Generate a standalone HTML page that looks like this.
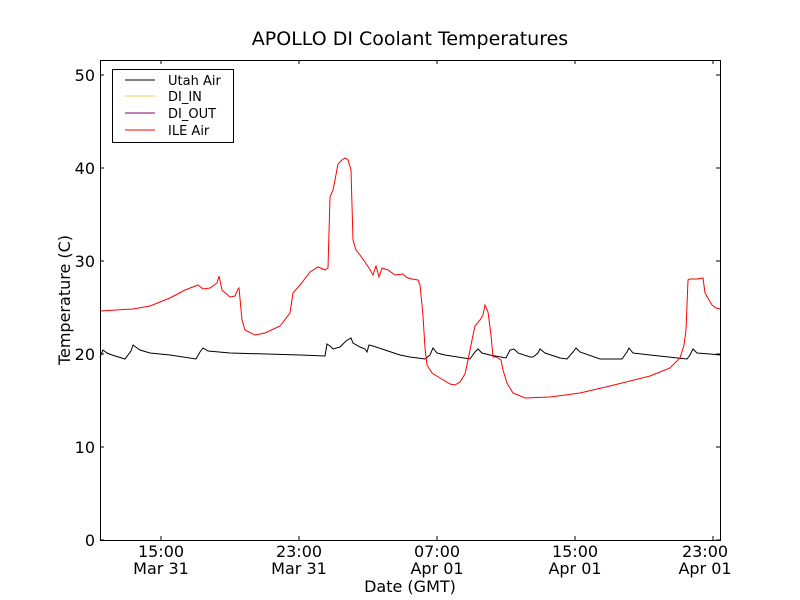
<!DOCTYPE html>
<html><head><meta charset="utf-8"><style>body{margin:0;background:#fff}svg{display:block}text{font-family:"DejaVu Sans","Liberation Sans",sans-serif}</style></head><body>
<svg width="800" height="600" viewBox="0 0 800 600" xmlns="http://www.w3.org/2000/svg">
<rect width="800" height="600" fill="#fff"/>
<text x="410" y="45" font-size="19" text-anchor="middle">APOLLO DI Coolant Temperatures</text>
<g fill="none" stroke-width="1">
<polyline stroke="#000" points="100,357 103,350 107,353 112,355 125,359 131,351 133,345 140,350 150,353 170,355 196,359 200,352 203,348 208,351 230,353 300,355 325,356 327,344 330,346 333,349 340,347 346,341 351,338 353,343 360,347 365,349 367,352 369,345 373,346 385,350 400,355 410,357 425,359 430,355 433,348 437,353 445,355 470,359 475,352 478,349 482,353 490,355 506,358 510,350 514,349 518,353 530,357 533,357 538,353 540,349 545,353 560,358 567,359 573,352 576,348 580,352 600,359 622,359 627,352 629,348 633,353 650,355 687,359 690,355 693,349 697,353 710,354 720,355"/>
<polyline stroke="#f00" points="100,311 133,309 150,306 170,298 185,290 198,285 203,289 210,288 217,283 219,276 222,290 230,297 235,296 238,289 239,288 242,320 245,330 255,335 265,333 280,326 290,313 293,293 300,285 310,272 318,267 325,270 328,268 330,197 333,190 335,180 338,164 342,160 345,158 348,160 351,170 353,240 356,250 360,255 365,262 369,268 373,275 376,266 379,277 382,268 388,270 395,275 403,274 405,276 408,278 412,279 418,280 420,285 422,305 423,316 425,348 427,365 432,373 440,378 450,384 455,385 460,382 465,374 468,360 472,340 475,326 480,320 483,315 485,305 488,312 491,335 493,357 496,357 501,360 503,370 507,383 513,393 525,398 550,397 580,393 610,386 650,376 670,368 680,358 684,345 686,330 688,280 690,279 697,279 703,278 705,293 709,300 712,305 716,308 720,309"/>
</g>
<rect x="100.5" y="60.5" width="620" height="480" fill="none" stroke="#000"/>
<g stroke="#000">
<line x1="100" y1="540" x2="104" y2="540"/><line x1="716" y1="540" x2="720" y2="540"/>
<line x1="100" y1="447" x2="104" y2="447"/><line x1="716" y1="447" x2="720" y2="447"/>
<line x1="100" y1="354" x2="104" y2="354"/><line x1="716" y1="354" x2="720" y2="354"/>
<line x1="100" y1="261" x2="104" y2="261"/><line x1="716" y1="261" x2="720" y2="261"/>
<line x1="100" y1="168" x2="104" y2="168"/><line x1="716" y1="168" x2="720" y2="168"/>
<line x1="100" y1="75" x2="104" y2="75"/><line x1="716" y1="75" x2="720" y2="75"/>
<line x1="161" y1="540" x2="161" y2="536"/><line x1="161" y1="60" x2="161" y2="64"/>
<line x1="299" y1="540" x2="299" y2="536"/><line x1="299" y1="60" x2="299" y2="64"/>
<line x1="437" y1="540" x2="437" y2="536"/><line x1="437" y1="60" x2="437" y2="64"/>
<line x1="575" y1="540" x2="575" y2="536"/><line x1="575" y1="60" x2="575" y2="64"/>
<line x1="713" y1="540" x2="713" y2="536"/><line x1="713" y1="60" x2="713" y2="64"/>
</g>
<g font-size="16" text-anchor="end">
<text x="95" y="546">0</text><text x="95" y="453">10</text><text x="95" y="360">20</text><text x="95" y="267">30</text><text x="95" y="174">40</text><text x="95" y="81">50</text>
</g>
<g font-size="16" text-anchor="middle">
<text x="161" y="557">15:00</text><text x="161" y="574">Mar 31</text>
<text x="299" y="557">23:00</text><text x="299" y="574">Mar 31</text>
<text x="437" y="557">07:00</text><text x="437" y="574">Apr 01</text>
<text x="575" y="557">15:00</text><text x="575" y="574">Apr 01</text>
<text x="705" y="557">23:00</text><text x="705" y="574">Apr 01</text>
<text x="410" y="592">Date (GMT)</text>
</g>
<text transform="translate(70,300) rotate(-90)" font-size="16" text-anchor="middle">Temperature (C)</text>
<rect x="112.5" y="69.5" width="121" height="73" fill="#fff" stroke="#000" stroke-width="1"/>
<g stroke-width="1">
<line x1="125" y1="80" x2="155" y2="80" stroke="#000"/>
<line x1="125" y1="96" x2="155" y2="96" stroke="#ffa500" stroke-opacity="0.7"/>
<line x1="125" y1="113" x2="155" y2="113" stroke="#800080"/>
<line x1="125" y1="130" x2="155" y2="130" stroke="#f00"/>
</g>
<g font-size="13">
<text x="168" y="85">Utah Air</text><text x="168" y="101">DI_IN</text><text x="168" y="118">DI_OUT</text><text x="168" y="135">ILE Air</text>
</g>
</svg>
</body></html>
